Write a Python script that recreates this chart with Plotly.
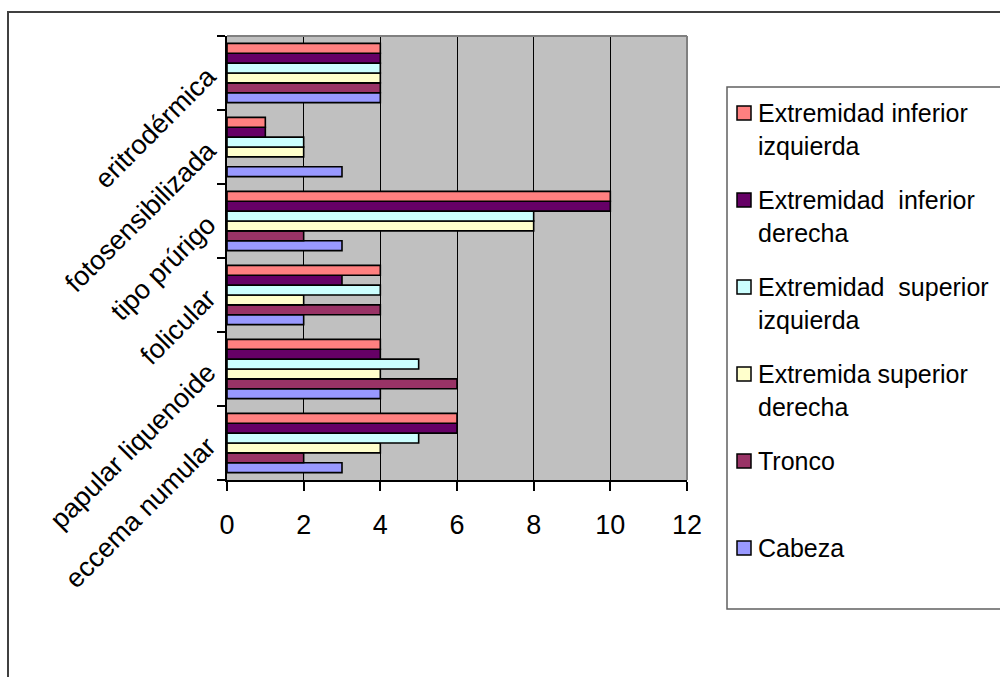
import plotly.graph_objects as go

# Categories, bottom to top
categories = ["eccema numular", "papular liquenoide", "folicular",
              "tipo prúrigo", "fotosensibilizada", "eritrodérmica"]

# Series (drawn bottom to top inside each group)
series_names = ["Cabeza", "Tronco", "Extremida superior derecha",
                "Extremidad  superior izquierda", "Extremidad  inferior derecha",
                "Extremidad inferior izquierda"]
series_colors = ["#9999FF", "#993366", "#FFFFCC", "#CCFFFF", "#660066", "#FF8080"]

cabeza = [3, 4, 2, 3, 3, 4]
tronco = [2, 6, 4, 2, None, 4]
ext_sup_der = [4, 4, 2, 8, 2, 4]
ext_sup_izq = [5, 5, 4, 8, 2, 4]
ext_inf_der = [6, 4, 3, 10, 1, 4]
ext_inf_izq = [6, 4, 4, 10, 1, 4]
series_values = [cabeza, tronco, ext_sup_der, ext_sup_izq, ext_inf_der, ext_inf_izq]

x_ticks = [0, 2, 4, 6, 8, 10, 12]

W, H = 1000, 677
L, R, T, B = 227, 687, 36, 480   # plot area in pixels

FONT = "Liberation Sans, Arial, sans-serif"


def xp(px):
    return (px - L) / (R - L)


def yp(py):
    return (B - py) / (B - T)


fig = go.Figure()
for name, color, vals in zip(series_names, series_colors, series_values):
    fig.add_trace(go.Bar(
        y=categories, x=vals, orientation="h", name=name,
        marker=dict(color=color, line=dict(color="black", width=1.6)),
        showlegend=False,
    ))

shapes = [
    # outer chart frame
    dict(type="rect", xref="paper", yref="paper",
         x0=xp(8), x1=xp(1010), y0=yp(690), y1=yp(12),
         line=dict(color="#404040", width=2), layer="below"),
    # top and right edges of the plot area
    dict(type="line", xref="paper", yref="paper", x0=0, x1=1, y0=1, y1=1,
         line=dict(color="#808080", width=2), layer="above"),
    dict(type="line", xref="paper", yref="paper", x0=1, x1=1, y0=0, y1=1,
         line=dict(color="#808080", width=2), layer="above"),
    # legend frame
    dict(type="rect", xref="paper", yref="paper",
         x0=xp(727), x1=xp(1010), y0=yp(609), y1=yp(87),
         line=dict(color="#606060", width=1.5), fillcolor="white", layer="below"),
]

annotations = []
# legend entries, listed top to bottom
first_y, step, line_gap = 113, 87, 33
for k, idx in enumerate(reversed(range(len(series_names)))):
    cy = first_y + k * step
    name = series_names[idx].replace("  ", "\u00a0 ")
    words = name.split(" ")
    lines = [" ".join(words[:-1]), words[-1]] if len(words) > 1 else [name]
    shapes.append(dict(type="rect", xref="paper", yref="paper",
                       x0=xp(737), x1=xp(751), y0=yp(cy + 7), y1=yp(cy - 7),
                       fillcolor=series_colors[idx],
                       line=dict(color="black", width=1.5), layer="above"))
    for j, ln in enumerate(lines):
        annotations.append(dict(
            xref="paper", yref="paper", x=xp(756), y=yp(cy + j * line_gap),
            text=ln, showarrow=False, xanchor="left", yanchor="middle",
            font=dict(family=FONT, size=25, color="black")))

fig.update_layout(
    width=W, height=H,
    margin=dict(l=L, r=W - R, t=T, b=H - B, pad=0),
    paper_bgcolor="white", plot_bgcolor="#C0C0C0",
    barmode="group", bargap=0.2, bargroupgap=0,
    font=dict(family=FONT, size=24, color="black"),
    shapes=shapes, annotations=annotations,
    showlegend=False,
    xaxis=dict(range=[0, 12], tickvals=x_ticks, ticktext=[str(v) for v in x_ticks],
               showgrid=True, gridcolor="black", gridwidth=1,
               showline=True, linecolor="black", linewidth=1.5,
               ticks="outside", ticklen=9, tickcolor="black", tickwidth=1.5,
               ticklabelstandoff=11, zeroline=False,
               tickfont=dict(family=FONT, size=27)),
    yaxis=dict(categoryorder="array", categoryarray=categories,
               showgrid=False, showline=True, linecolor="black", linewidth=1.5,
               ticks="outside", ticklen=8, tickcolor="black", tickwidth=1.5,
               tickson="boundaries", tickangle=-45, ticklabelstandoff=12,
               tickfont=dict(family=FONT, size=27)),
)

fig.write_html("out.html")
